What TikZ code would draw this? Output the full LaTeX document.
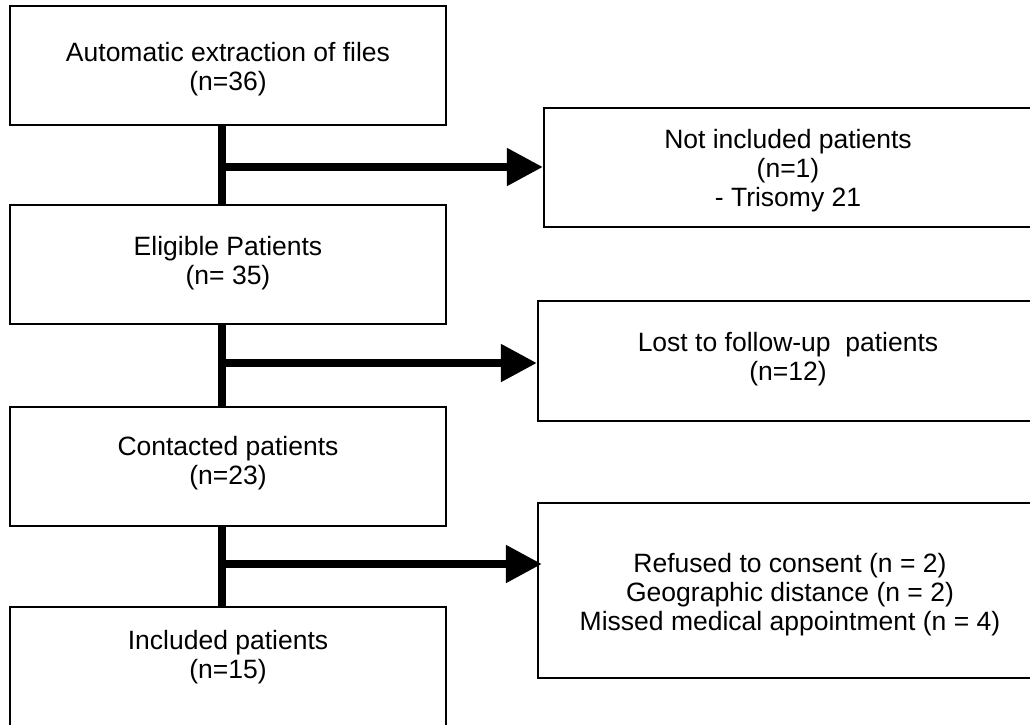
\documentclass[tikz,border=0pt]{standalone}
\usepackage{fontspec}
\setmainfont{Liberation Sans}
\usetikzlibrary{arrows.meta}
\begin{document}
\begin{tikzpicture}[x=1pt,y=-1pt,
  box/.style={draw, line width=2.2pt, rectangle, inner sep=0pt},
  txt/.style={align=center, font=\fontsize{26.5}{29}\selectfont, inner sep=0pt},
  flow/.style={line width=8pt},
  arr/.style={line width=8pt, -{Triangle[length=36pt,width=36pt]}}]
\useasboundingbox (0,0) rectangle (1030,724);
\clip (0,0) rectangle (1030,724);
% left column boxes
\node[box, minimum width=436pt, minimum height=119pt] (b1) at (228,65.5) {};
\node[box, minimum width=436pt, minimum height=119pt] (b2) at (228,264.5) {};
\node[box, minimum width=436pt, minimum height=119pt] (b3) at (228,466.5) {};
\node[box, minimum width=436pt, minimum height=123pt] (b4) at (228,668.5) {};
% right column boxes
\node[box, minimum width=492pt, minimum height=119pt] (rA) at (790,167.5) {};
\node[box, minimum width=498pt, minimum height=120pt] (rB) at (787,361) {};
\node[box, minimum width=498pt, minimum height=175pt] (rC) at (787,590.5) {};
% texts
\node[txt] (t1) at (228,69) {Automatic extraction of files\\(n=36)};
\node[txt] (t2) at (228,263) {Eligible Patients\\(n= 35)};
\node[txt] (t3) at (228,463.5) {Contacted patients\\(n=23)};
\node[txt] (t4) at (228,657) {Included patients\\(n=15)};
\node[txt] (tA) at (788,170.5) {Not included patients\\(n=1)\\- Trisomy 21};
\node[txt] (tB) at (788,359) {Lost to follow-up\ \ patients\\(n=12)};
\node[txt] (tC) at (790,594.5) {Refused to consent (n = 2)\\Geographic distance (n = 2)\\Missed medical appointment (n = 4)};
% junctions
\coordinate (j1) at (221.5,167);
\coordinate (j2) at (221.5,363);
\coordinate (j3) at (221.5,564);
% vertical flow lines
\draw[flow] (b1.south -| j1) -- (b2.north -| j1);
\draw[flow] (b2.south -| j2) -- (b3.north -| j2);
\draw[flow] (b3.south -| j3) -- (b4.north -| j3);
% horizontal arrows
\draw[arr] (j1) -- (j1 -| rA.west);
\draw[arr] (j2) -- (j2 -| rB.west);
\draw[arr, shorten >=-5pt] (j3) -- (j3 -| rC.west);
\end{tikzpicture}
\end{document}
